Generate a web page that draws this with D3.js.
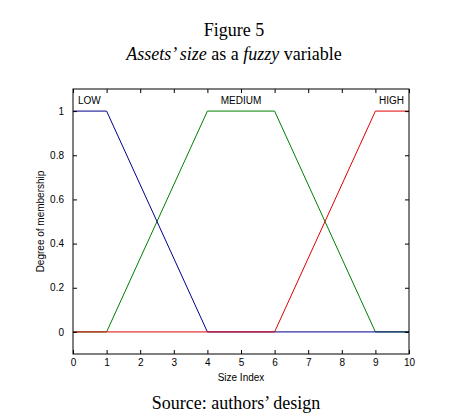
<!DOCTYPE html>
<html><head><meta charset="utf-8">
<script src="https://cdn.jsdelivr.net/npm/d3@7"></script>
<style>body{margin:0;background:#fff}</style>
</head><body>
<svg id="c" width="472" height="420"></svg>
<script>
const xTicks = [0,1,2,3,4,5,6,7,8,9,10];
const yTicks = [0,0.2,0.4,0.6,0.8,1];
const yTickLabels = ["0","0.2","0.4","0.6","0.8","1"];
const mfNames = ["LOW","MEDIUM","HIGH"];
const lowX = [0,1,4,10], lowY = [1,1,0,0];
const medX = [0,1,4,6,9,10], medY = [0,0,1,1,0,0];
const highX = [0,6,9,10], highY = [0,0,1,1];
const labelX = [0.15, 5, 9.85];

const svg = d3.select("#c");
const L=73, R=409, T=89, B=354;
const x = d3.scaleLinear().domain([0,10]).range([L,R]);
const y = d3.scaleLinear().domain([-0.1,1.1]).range([B,T]);

const serif = "Liberation Serif";
svg.append("text").attr("x",234).attr("y",36).attr("text-anchor","middle")
  .style("font-family",serif).style("font-size","18px").text("Figure 5");
const sub = svg.append("text").attr("x",234).attr("y",60).attr("text-anchor","middle")
  .style("font-family",serif).style("font-size","18px");
sub.append("tspan").style("font-style","italic").text("Assets’ size");
sub.append("tspan").text(" as a ");
sub.append("tspan").style("font-style","italic").text("fuzzy");
sub.append("tspan").text(" variable");
svg.append("text").attr("x",236).attr("y",409).attr("text-anchor","middle")
  .style("font-family",serif).style("font-size","18px").text("Source: authors’ design");

const g = svg.append("g");
const line = d3.line().x(d=>x(d[0])).y(d=>y(d[1]));
const series = [
  {xs:medX, ys:medY, c:"#008000"},
  {xs:lowX, ys:lowY, c:"#00008c"},
  {xs:highX, ys:highY, c:"#e00000"}
];
series.forEach(s=>{
  g.append("path").datum(s.xs.map((v,i)=>[v,s.ys[i]]))
    .attr("d",line).attr("fill","none").attr("stroke",s.c).attr("stroke-width",1);
});

const font = "Liberation Sans";
const ax = g.append("g").attr("transform",`translate(0,${B})`)
  .call(d3.axisBottom(x).tickValues(xTicks).tickSize(-4).tickPadding(5).tickFormat(d3.format("d")));
const axTop = g.append("g").attr("transform",`translate(0,${T})`)
  .call(d3.axisTop(x).tickValues(xTicks).tickSize(-4).tickFormat(""));
const ay = g.append("g").attr("transform",`translate(${L},0)`)
  .call(d3.axisLeft(y).tickValues(yTicks).tickSize(-4).tickPadding(9).tickFormat((d,i)=>yTickLabels[i]));
const ayR = g.append("g").attr("transform",`translate(${R},0)`)
  .call(d3.axisRight(y).tickValues(yTicks).tickSize(-4).tickFormat(""));
[ax,axTop,ay,ayR].forEach(a=>{
  a.select(".domain").remove();
  a.selectAll("line").attr("stroke","#000");
  a.selectAll("text").style("font-family",font).style("font-size","10px").attr("fill","#000");
});
g.append("rect").attr("x",L).attr("y",T).attr("width",R-L).attr("height",B-T)
  .attr("fill","none").attr("stroke","#000").attr("stroke-width",1);

const anchors = ["start","middle","end"];
mfNames.forEach((n,i)=>{
  g.append("text").attr("x",x(labelX[i])).attr("y",T+15).attr("text-anchor",anchors[i])
    .style("font-family",font).style("font-size","10px").text(n);
});

svg.append("text").attr("x",L+168).attr("y",381).attr("text-anchor","middle")
  .style("font-family",font).style("font-size","10px").text("Size Index");
svg.append("text").attr("transform",`translate(44,${(T+B)/2}) rotate(-90)`).attr("text-anchor","middle")
  .style("font-family",font).style("font-size","10px").text("Degree of membership");
</script>
</body></html>
